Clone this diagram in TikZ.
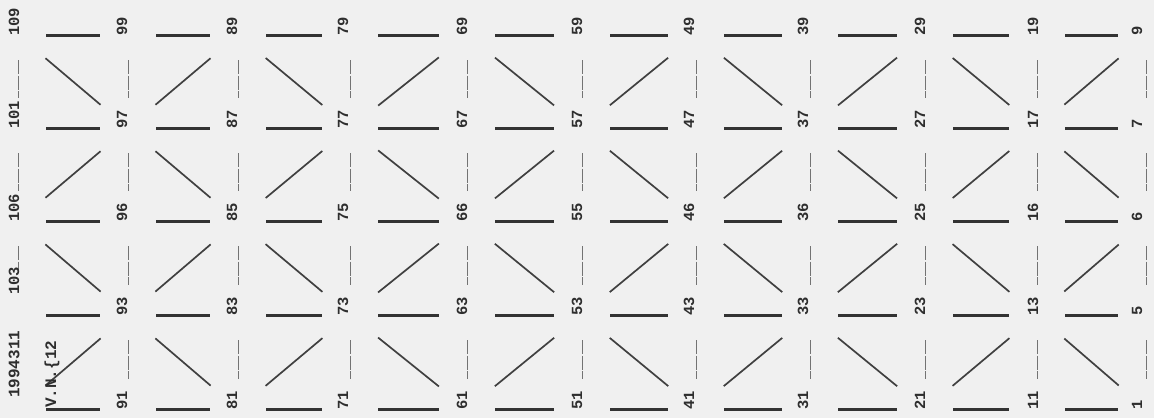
\documentclass[tikz,border=0pt]{standalone}
\usepackage{fontspec}
\newfontfamily\scanfont{Liberation Mono}
\usetikzlibrary{calc}

\begin{document}
\begin{tikzpicture}[
  x=1pt, y=-1pt,
  bar/.style={line width=3pt, draw=black!80, shorten <=28pt, shorten >=28pt},
  diag/.style={line width=1.7pt, draw=black!75, shorten <=36pt, shorten >=36pt},
  vline/.style={line width=0.9pt, draw=black!55, dash pattern=on 14pt off 1.5pt,
                shorten <=25pt, shorten >=30pt},
  lbl/.style={font=\scanfont\bfseries\fontsize{15.5}{15.5}\selectfont, text=black!82,
              rotate=90, anchor=west, inner sep=0pt},
  scrawl/.style={lbl, font=\scanfont\bfseries\fontsize{16}{16}\selectfont}
]
  \useasboundingbox (0,0) rectangle (1154,418);
  \fill[black!6] (0,0) rectangle (1154,418);

  % grid points (line columns x rows)
  \foreach \c/\gx in {1/18,2/128,3/238,4/350,5/467,6/582,7/696,8/810,9/925,10/1037,11/1146}
    \foreach \r/\gy in {1/35,2/128,3/221,4/315,5/409}
      \coordinate (g-\c-\r) at (\gx,\gy);

  % horizontal members
  \foreach \c [evaluate=\c as \cn using int(\c+1)] in {1,...,10}
    \foreach \r in {1,...,5}
      \draw[bar] (g-\c-\r) -- (g-\cn-\r);

  % diagonals, alternating
  \foreach \c [evaluate=\c as \cn using int(\c+1)] in {1,...,10}{
    \foreach \r [evaluate=\r as \rn using int(\r+1)] in {1,...,4}{
      \pgfmathparse{int(mod(\c+\r,2))}
      \ifnum\pgfmathresult=0
        \draw[diag] (g-\c-\r) -- (g-\cn-\rn);
      \else
        \draw[diag] (g-\c-\rn) -- (g-\cn-\r);
      \fi
    }
  }

  % verticals
  \foreach \c in {2,...,11}{
    \foreach \r/\rn in {1/2,2/3,3/4,4/5}
      \draw[vline] (g-\c-\r) -- (g-\c-\rn);
  }
  \foreach \r/\rn in {1/2,2/3}
    \draw[vline] (g-1-\r) -- (g-1-\rn);
  \draw[vline, shorten >=45pt] (g-1-3) -- (g-1-4);

  % member numbers
  \foreach \t [count=\r] in {109,101,106}
    \node[lbl] (l-1-\r) at ([xshift=-4pt,yshift=-1pt]g-1-\r) {\t};
  \node[lbl] (l-1-4) at ([xshift=-4pt,yshift=20pt]g-1-4) {103};
  \foreach \t [count=\r] in {99,97,96,93,91}
    \node[lbl] (l-2-\r) at ([xshift=-6pt,yshift=-1pt]g-2-\r) {\t};
  \foreach \t [count=\r] in {89,87,85,83,81}
    \node[lbl] (l-3-\r) at ([xshift=-6pt,yshift=-1pt]g-3-\r) {\t};
  \foreach \t [count=\r] in {79,77,75,73,71}
    \node[lbl] (l-4-\r) at ([xshift=-7pt,yshift=-1pt]g-4-\r) {\t};
  \foreach \t [count=\r] in {69,67,66,63,61}
    \node[lbl] (l-5-\r) at ([xshift=-5pt,yshift=-1pt]g-5-\r) {\t};
  \foreach \t [count=\r] in {59,57,55,53,51}
    \node[lbl] (l-6-\r) at ([xshift=-5pt,yshift=-1pt]g-6-\r) {\t};
  \foreach \t [count=\r] in {49,47,46,43,41}
    \node[lbl] (l-7-\r) at ([xshift=-7pt,yshift=-1pt]g-7-\r) {\t};
  \foreach \t [count=\r] in {39,37,36,33,31}
    \node[lbl] (l-8-\r) at ([xshift=-7pt,yshift=-1pt]g-8-\r) {\t};
  \foreach \t [count=\r] in {29,27,25,23,21}
    \node[lbl] (l-9-\r) at ([xshift=-5pt,yshift=-1pt]g-9-\r) {\t};
  \foreach \t [count=\r] in {19,17,16,13,11}
    \node[lbl] (l-10-\r) at ([xshift=-4pt,yshift=-1pt]g-10-\r) {\t};
  \foreach \t [count=\r] in {9,7,6,5,1}
    \node[lbl] (l-11-\r) at ([xshift=-9pt,yshift=-1pt]g-11-\r) {\t};

  % handwritten notes, lower left
  \node[scrawl] (note-a) at ([xshift=-4pt,yshift=11pt]g-1-5) {1994311};
  \node[scrawl] (note-b) at ([xshift=34pt,yshift=1pt]g-1-5) {V.N.\{12};
\end{tikzpicture}
\end{document}
